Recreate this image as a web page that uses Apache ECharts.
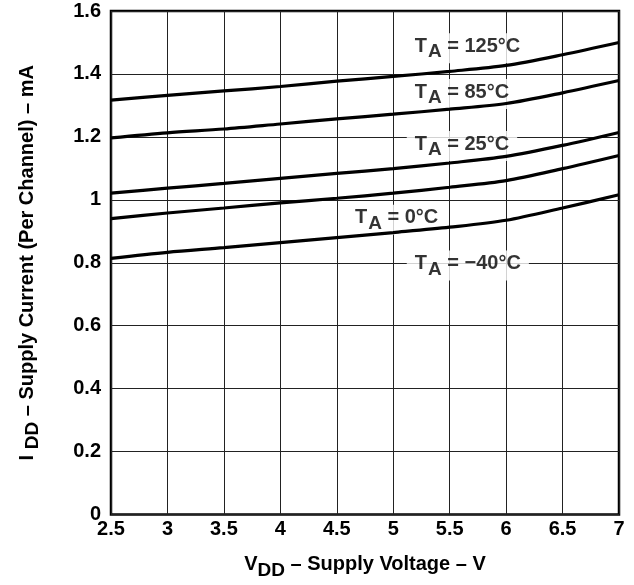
<!DOCTYPE html>
<html>
<head>
<meta charset="utf-8">
<script src="https://cdn.jsdelivr.net/npm/echarts@6/dist/echarts.min.js"></script>
<style>
html,body{margin:0;padding:0;background:#fff;}
#chart{width:634px;height:585px;}
</style>
</head>
<body>
<div id="chart"></div>
<script>
var vdd = [2.5, 3, 3.5, 4, 4.5, 5, 5.5, 6, 6.5, 7];
var t125 = [1.317, 1.332, 1.346, 1.360, 1.377, 1.392, 1.408, 1.427, 1.461, 1.500];
var t85  = [1.197, 1.213, 1.225, 1.241, 1.257, 1.272, 1.288, 1.306, 1.340, 1.379];
var t25  = [1.021, 1.037, 1.052, 1.068, 1.084, 1.099, 1.117, 1.138, 1.173, 1.214];
var t0   = [0.940, 0.958, 0.974, 0.990, 1.005, 1.021, 1.040, 1.061, 1.099, 1.141];
var tm40 = [0.814, 0.833, 0.848, 0.864, 0.880, 0.896, 0.913, 0.935, 0.974, 1.016];
var seriesNames = ['125°C', '85°C', '25°C', '0°C', '\u221240°C'];
var labelPos = [[5.12, 1.482], [5.12, 1.336], [5.12, 1.171], [4.59, 0.937], [5.12, 0.791]];
var xTicks = {min: 2.5, max: 7, interval: 0.5};
var yTicks = {min: 0, max: 1.6, interval: 0.2};

var allData = [t125, t85, t25, t0, tm40];
var FONT = '"Liberation Sans", Arial, sans-serif';

function pairs(ys) { return vdd.map(function (x, i) { return [x, ys[i]]; }); }

var series = allData.map(function (ys, i) {
  return {
    type: 'line', name: seriesNames[i], data: pairs(ys), smooth: 0.3,
    symbol: 'none', lineStyle: {color: '#000', width: 3.2}, z: 4
  };
});
series.push({
  type: 'scatter', symbolSize: 0, z: 2,
  data: labelPos.map(function (p, i) { return {value: p, name: seriesNames[i]}; }),
  label: {
    show: true, position: 'right', distance: 0,
    formatter: function (p) { return '{t|T}{s|A}{t| = ' + p.name + '}'; },
    backgroundColor: '#fff', padding: [3, 8, 1, 8],
    rich: {
      t: {fontFamily: FONT, fontWeight: 'bold', fontSize: 20, color: '#000', padding: [0, 0, 6, 0]},
      s: {fontFamily: FONT, fontWeight: 'bold', fontSize: 19, color: '#000', padding: [6, 0, 0, 1]}
    }
  },
  silent: true
});

var chart = echarts.init(document.getElementById('chart'), null, {renderer: 'canvas'});
chart.setOption({
  animation: false,
  backgroundColor: '#fff',
  grid: {left: 111, right: 15, top: 11, bottom: 69, show: true, borderColor: '#000', borderWidth: 2.5, backgroundColor: 'transparent'},
  xAxis: {
    type: 'value', min: xTicks.min, max: xTicks.max, interval: xTicks.interval,
    axisLine: {show: false}, axisTick: {show: false},
    splitLine: {show: true, lineStyle: {color: '#222', width: 1}},
    axisLabel: {fontFamily: FONT, fontWeight: 'bold', fontSize: 20, color: '#000', margin: 5},
    name: '{t|V}{s|DD}{t| \u2013 Supply Voltage \u2013 V}', nameLocation: 'middle', nameGap: 40,
    nameTextStyle: {
      rich: {
        t: {fontFamily: FONT, fontWeight: 'bold', fontSize: 20, color: '#000', padding: [0, 0, 6, 0]},
        s: {fontFamily: FONT, fontWeight: 'bold', fontSize: 19, color: '#000', padding: [6, 0, 0, 0]}
      }
    }
  },
  yAxis: {
    type: 'value', min: yTicks.min, max: yTicks.max, interval: yTicks.interval,
    axisLine: {show: false}, axisTick: {show: false},
    splitLine: {show: true, lineStyle: {color: '#222', width: 1}},
    axisLabel: {fontFamily: FONT, fontWeight: 'bold', fontSize: 20, color: '#000', margin: 10},
    name: '{t|I }{s|DD}{t| \u2013 Supply Current (Per Channel) \u2013 mA}', nameLocation: 'middle', nameGap: 68, nameRotate: 90,
    nameTextStyle: {
      rich: {
        t: {fontFamily: FONT, fontWeight: 'bold', fontSize: 20, color: '#000', padding: [0, 0, 6, 0]},
        s: {fontFamily: FONT, fontWeight: 'bold', fontSize: 19, color: '#000', padding: [6, 0, 0, 0]}
      }
    }
  },
  series: series
});
</script>
</body>
</html>
